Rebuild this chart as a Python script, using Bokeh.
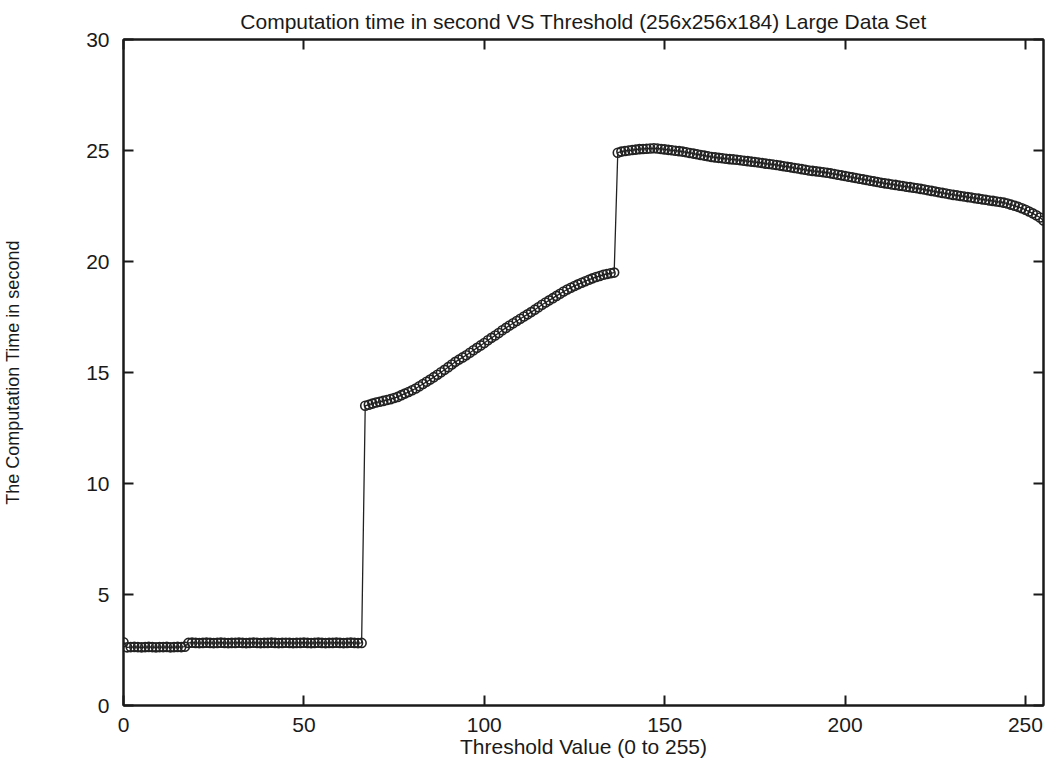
from bokeh.plotting import figure
from bokeh.models import LinearAxis, FixedTicker, Range1d, CustomJSTickFormatter
from bokeh.embed import file_html
from bokeh.resources import INLINE

# Threshold values 0..255
threshold = list(range(0, 256))

# Computation time (seconds)
seg_low_a = [2.85,
             2.62, 2.63, 2.64, 2.63, 2.62, 2.63, 2.64, 2.63, 2.62,
             2.63, 2.63, 2.64, 2.62, 2.63, 2.64, 2.63, 2.65]          # x = 0..17
seg_low_b = [2.82, 2.83, 2.82, 2.81, 2.82, 2.83, 2.82, 2.81, 2.82, 2.83,
             2.82, 2.81, 2.82, 2.82, 2.83, 2.82, 2.81, 2.82, 2.83, 2.82,
             2.81, 2.82, 2.82, 2.83, 2.82, 2.81, 2.82, 2.83, 2.82, 2.81,
             2.82, 2.82, 2.83, 2.82, 2.81, 2.82, 2.83, 2.82, 2.81, 2.82,
             2.82, 2.83, 2.82, 2.81, 2.82, 2.83, 2.82, 2.81, 2.82]    # x = 18..66
seg_mid = [13.50, 13.55, 13.60, 13.65, 13.68, 13.72, 13.76, 13.80, 13.85, 13.90,
           13.98, 14.05, 14.12, 14.20, 14.28, 14.38, 14.48, 14.58, 14.68, 14.79,
           14.90, 15.01, 15.12, 15.24, 15.36, 15.48, 15.58, 15.68, 15.78, 15.89,
           16.00, 16.11, 16.22, 16.33, 16.45, 16.56, 16.67, 16.78, 16.90, 17.01,
           17.12, 17.22, 17.32, 17.42, 17.52, 17.62, 17.72, 17.83, 17.94, 18.05,
           18.15, 18.25, 18.35, 18.45, 18.55, 18.65, 18.74, 18.82, 18.90, 18.97,
           19.04, 19.11, 19.18, 19.24, 19.30, 19.35, 19.40, 19.44, 19.47, 19.50]  # x = 67..136
seg_high = [24.90, 24.95, 24.98, 25.00, 25.02, 25.04, 25.06, 25.07, 25.08, 25.09,
            25.10, 25.09, 25.07, 25.05, 25.03, 25.01, 24.99, 24.97, 24.95, 24.92,
            24.89, 24.86, 24.83, 24.80, 24.77, 24.74, 24.71, 24.69, 24.67, 24.65,
            24.63, 24.61, 24.60, 24.58, 24.56, 24.54, 24.52, 24.50, 24.48, 24.46,
            24.44, 24.41, 24.39, 24.37, 24.35, 24.32, 24.29, 24.27, 24.24, 24.21,
            24.19, 24.16, 24.13, 24.10, 24.08, 24.06, 24.04, 24.02, 24.00, 23.97,
            23.94, 23.91, 23.88, 23.85, 23.82, 23.79, 23.76, 23.73, 23.70, 23.67,
            23.64, 23.61, 23.58, 23.55, 23.52, 23.50, 23.47, 23.45, 23.42, 23.40,
            23.37, 23.35, 23.32, 23.30, 23.27, 23.24, 23.21, 23.18, 23.15, 23.12,
            23.09, 23.06, 23.03, 23.00, 22.98, 22.95, 22.93, 22.90, 22.88, 22.85,
            22.83, 22.80, 22.78, 22.75, 22.73, 22.70, 22.68, 22.65, 22.61, 22.56,
            22.51, 22.46, 22.40, 22.33, 22.25, 22.17, 22.08, 21.98, 21.85]        # x = 137..255
comp_time = seg_low_a + seg_low_b + seg_mid + seg_high

x_ticks = [0, 50, 100, 150, 200, 250]
y_ticks = [0, 5, 10, 15, 20, 25, 30]

FONT = "Liberation Sans"
FS = "21px"
INK = "#1a1a1a"

p = figure(
    frame_width=920, frame_height=666,
    x_range=Range1d(0, 255), y_range=Range1d(0, 30),
    output_backend="svg", toolbar_location=None,
    title="Computation time in second VS Threshold (256x256x184) Large Data Set",
    min_border_left=114, min_border_right=5, min_border_top=39, min_border_bottom=45,
    background_fill_color="white", border_fill_color="white",
)
p.grid.visible = False
p.outline_line_color = INK
p.outline_line_width = 2

p.title.align = "center"
p.title.text_font = FONT
p.title.text_font_size = FS
p.title.text_font_style = "normal"
p.title.text_color = INK
p.title.standoff = 14

def style_axis(ax, labels=True):
    ax.axis_line_color = INK
    ax.axis_line_width = 2
    ax.major_tick_in = 10
    ax.major_tick_out = 0
    ax.major_tick_line_color = INK
    ax.major_tick_line_width = 2
    ax.minor_tick_line_color = None
    if labels:
        ax.major_label_text_font = FONT
        ax.major_label_text_font_size = FS
        ax.major_label_text_color = INK
        ax.major_label_standoff = 14
        ax.axis_label_text_font = FONT
        ax.axis_label_text_font_size = FS
        ax.axis_label_text_font_style = "normal"
        ax.axis_label_text_color = INK
    else:
        ax.formatter = CustomJSTickFormatter(code="return '';")
        ax.major_label_standoff = 0

xa = p.xaxis[0]
xa.ticker = FixedTicker(ticks=x_ticks)
xa.axis_label = "Threshold Value (0 to 255)"
style_axis(xa)
xa.major_label_standoff = 12
xa.axis_label_standoff = 0

ya = p.yaxis[0]
ya.ticker = FixedTicker(ticks=y_ticks)
ya.axis_label = "The Computation Time in second"
style_axis(ya)
ya.axis_label_text_font_size = "18px"
ya.axis_label_standoff = 60

top = LinearAxis(ticker=FixedTicker(ticks=x_ticks))
style_axis(top, labels=False)
p.add_layout(top, "above")
right = LinearAxis(ticker=FixedTicker(ticks=y_ticks))
style_axis(right, labels=False)
p.add_layout(right, "right")

p.line(threshold, comp_time, line_color="#222222", line_width=1.3)
p.scatter(threshold, comp_time, marker="circle", size=9,
          fill_color=None, line_color="#222222", line_width=1.6)

open("out.html", "w").write(file_html(p, INLINE))
